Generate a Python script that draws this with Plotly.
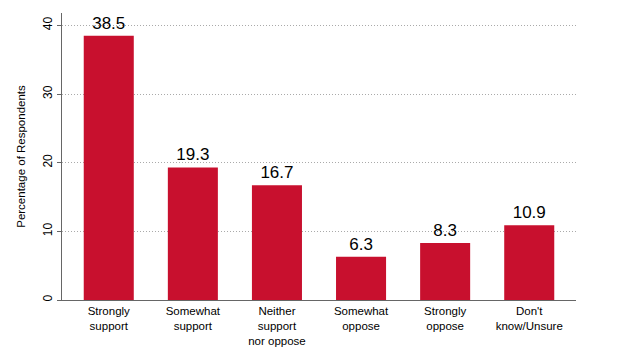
import plotly.graph_objects as go

categories = ["Strongly<br>support", "Somewhat<br>support", "Neither<br>support<br>nor oppose",
              "Somewhat<br>oppose", "Strongly<br>oppose", "Don't<br>know/Unsure"]
values = [38.5, 19.3, 16.7, 6.3, 8.3, 10.9]
y_ticks = [0, 10, 20, 30, 40]

FONT = "Liberation Sans, Arial, sans-serif"
fig = go.Figure(go.Bar(
    x=list(range(len(categories))), y=values,
    marker=dict(color="#C8102E", line=dict(width=0)),
    width=0.595,
    text=[f"{v:.1f}" for v in values], textposition="outside",
    textfont=dict(size=17, color="black", family=FONT),
    cliponaxis=False,
))
fig.update_layout(
    width=624, height=357,
    margin=dict(l=54, r=56, t=5, b=65),
    plot_bgcolor="white", paper_bgcolor="white",
    font=dict(family=FONT, color="black"),
    showlegend=False,
)
fig.update_xaxes(
    tickvals=list(range(len(categories))), ticktext=categories,
    range=[-0.556, 5.556], showgrid=False, zeroline=False,
    showline=True, linecolor="#666", linewidth=1,
    ticks="", tickfont=dict(size=11.5), automargin=False,
)
fig.update_yaxes(
    range=[0, 41.8], tickvals=y_ticks, tickangle=-90,
    tickfont=dict(size=12), ticks="outside", ticklen=4, tickcolor="#666",
    showline=True, linecolor="#666", linewidth=1, zeroline=False,
    showgrid=True, gridcolor="#aaa", griddash="1px,2px", gridwidth=1,
    ticklabelstandoff=0, automargin=False,
    title=dict(text="Percentage of Respondents", font=dict(size=11.5), standoff=13),
)
fig.write_html("out.html")
